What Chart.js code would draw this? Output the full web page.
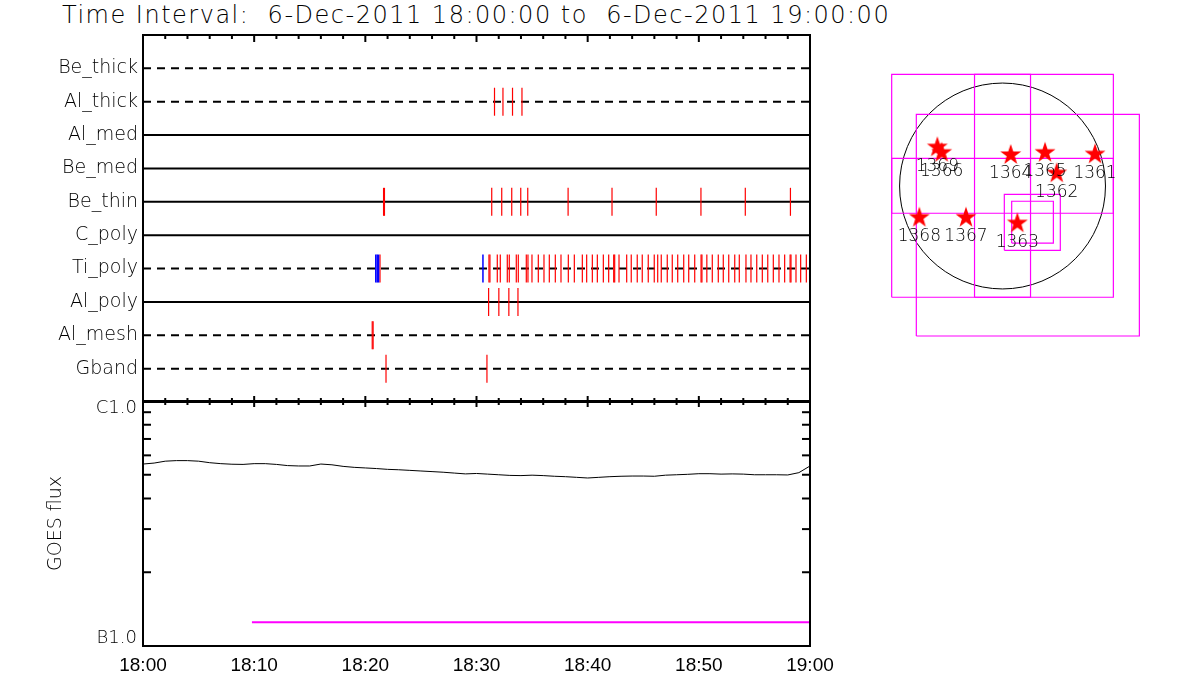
<!DOCTYPE html>
<html>
<head>
<meta charset="utf-8">
<script src="https://cdn.jsdelivr.net/npm/chart.js@4.4.1/dist/chart.umd.min.js"></script>
<style>
  html, body { margin: 0; padding: 0; background: #fff; }
  body { width: 1200px; height: 700px; position: relative; overflow: hidden; }
  #title { position: absolute; left: 62px; top: 1px; font: 200 24px "DejaVu Sans"; letter-spacing: 1.5px; white-space: pre; color: #000; }
  canvas { position: absolute; }
  #chart-top  { left: 0; top: 0; }
  #chart-goes { left: 0; top: 380px; }
  #chart-map  { left: 860px; top: 50px; }
</style>
</head>
<body>
<div id="title">Time Interval:  6-Dec-2011 18:00:00 to  6-Dec-2011 19:00:00</div>
<canvas id="chart-top" width="830" height="410"></canvas>
<canvas id="chart-goes" width="850" height="320"></canvas>
<canvas id="chart-map" width="320" height="310"></canvas>
<script>
/* ── données : temps en minutes après 18:00 ── */
const instruments = ['Be_thick', 'Al_thick', 'Al_med', 'Be_med', 'Be_thin', 'C_poly', 'Ti_poly', 'Al_poly', 'Al_mesh', 'Gband'];
const rowDashed   = [true, true, false, false, false, false, true, false, true, true];

const alThickEvents = [31.62, 32.38, 33.24, 34.09];
const beThinEvents  = [21.64, 21.72, 31.37, 32.27, 33.17, 33.98, 34.61, 38.24, 42.19, 46.17, 50.19, 54.18, 58.24];
const tiPolyEvents  = [21.32, 31.12, 31.21, 31.87, 32.14, 32.77, 32.95, 33.58, 33.76, 34.48, 34.63, 34.99, 35.56,
                       36.07, 36.55, 37.09, 37.60, 38.26, 38.80, 39.52, 39.91, 40.42, 40.87, 41.41, 41.89, 42.34,
                       42.43, 42.82, 43.51, 43.92, 44.46, 44.91, 45.45, 45.99, 46.30, 46.62, 47.16, 47.61, 48.10,
                       48.64, 49.09, 49.63, 50.20, 50.28, 50.72, 51.21, 51.75, 52.20, 52.69, 53.23, 53.64, 54.24,
                       54.69, 55.21, 55.71, 56.20, 56.70, 57.21, 57.72, 58.21, 58.29, 58.74, 59.16, 59.67];
const tiPolyBlue    = [20.94, 21.07, 21.19, 30.58];
const alPolyEvents  = [31.09, 32.01, 32.91, 33.73];
const alMeshEvents  = [20.62, 20.70];
const gbandEvents   = [21.86, 30.94];

const timeLabels = ['18:00', '18:10', '18:20', '18:30', '18:40', '18:50', '19:00'];

// flux GOES (x 1e-7 W/m2), un point par minute de 18:00 à 19:00
const goesFlux = [5.53, 5.58, 5.68, 5.71, 5.71, 5.68, 5.60, 5.55, 5.52, 5.51, 5.55, 5.55, 5.51, 5.45, 5.43, 5.43,
                  5.53, 5.49, 5.41, 5.36, 5.33, 5.30, 5.26, 5.24, 5.21, 5.18, 5.15, 5.12, 5.08, 5.04, 5.06, 5.03,
                  5.00, 4.97, 4.96, 4.98, 4.96, 4.93, 4.91, 4.88, 4.85, 4.88, 4.91, 4.93, 4.94, 4.94, 4.93, 4.98,
                  5.00, 5.02, 5.05, 5.05, 5.03, 5.04, 5.03, 5.00, 5.00, 5.00, 4.99, 5.10, 5.43];
const flareLevel = 1.25e-7;
const flareStart = 9.8;
const fluxMinorTicks = [2e-7, 3e-7, 4e-7, 5e-7, 6e-7, 7e-7, 8e-7, 9e-7];

// carte du disque solaire (arcsec)
const solarRadius = 978;
const regionIds = ['1369', '1366', '1364', '1365', '1362', '1361', '1368', '1367', '1363'];
const regionX   = [-619, -578, 78, 404, 515, 879, -790, -347, 141];
const regionY   = [368, 316, 295, 316, 121, 301, -301, -301, -354];
const fovBoxes  = [
  [-1053, -1057, 1053, 1061],
  [-266, -1057, 266, 1061],
  [-1053, -259, 1053, 263],
  [-819, -1425, 1300, 681],
  [17, -611, 549, -79],
  [87, -542, 483, -145],
];

Chart.defaults.font.family = '"DejaVu Sans"';
Chart.defaults.color = '#000';

// largeur/hauteur d'axe fixes, sans marge auto pour les labels extrêmes
const fixWidth  = w => s => { s.width = w; s.paddingTop = 0; s.paddingBottom = 0; };
const fixHeight = h => s => { s.height = h; s.paddingLeft = 0; s.paddingRight = 0; };

/* ── cadre + graduations vers l'intérieur ── */
const frameTicks = {
  id: 'frameTicks',
  afterDatasetsDraw(chart, args, opts) {
    const { ctx, chartArea: a, scales } = chart;
    const seg = (x1, y1, x2, y2) => { ctx.beginPath(); ctx.moveTo(x1, y1); ctx.lineTo(x2, y2); ctx.stroke(); };
    ctx.save();
    ctx.strokeStyle = '#000';
    ctx.lineWidth = 2;
    ctx.strokeRect(a.left, a.top, a.right - a.left, a.bottom - a.top);
    for (let t = 0; t <= 60; t += 2) {
      const x = scales.x.getPixelForValue(t);
      const major = t % 10 === 0;
      if (opts.top)    seg(x, a.top, x, a.top + (major ? opts.top[0] : opts.top[1]));
      if (opts.bottom) seg(x, a.bottom, x, a.bottom - (major ? opts.bottom[0] : opts.bottom[1]));
    }
    (opts.yTicks || []).forEach(v => {
      const y = scales.y.getPixelForValue(v);
      seg(a.left, y, a.left + opts.yLen, y);
      seg(a.right, y, a.right - opts.yLen, y);
    });
    ctx.restore();
  }
};

/* ── panneau du haut : lignes d'instruments ── */
function eventSet(times, row, color, width) {
  return {
    type: 'scatter', order: 1,
    data: times.map(t => ({ x: t, y: 10 - row })),
    pointStyle: 'line', rotation: 90, pointRadius: 14, pointHoverRadius: 14,
    borderColor: color, borderWidth: width, backgroundColor: color,
  };
}

const rowSets = instruments.map((name, i) => ({
  type: 'line', order: 2, label: name,
  data: [{ x: 0, y: 10 - i }, { x: 60, y: 10 - i }],
  borderColor: '#000', borderWidth: 2, borderDash: rowDashed[i] ? [8, 6] : [],
  pointRadius: 0,
}));

new Chart(document.getElementById('chart-top'), {
  type: 'scatter',
  data: {
    datasets: [
      eventSet(tiPolyBlue, 6, '#0000ff', 1.5),
      eventSet(alThickEvents, 1, '#ff0000', 1.2),
      eventSet(beThinEvents, 4, '#ff0000', 1.2),
      eventSet(tiPolyEvents, 6, '#ff0000', 1.2),
      eventSet(alPolyEvents, 7, '#ff0000', 1.2),
      eventSet(alMeshEvents, 8, '#ff0000', 1.2),
      eventSet(gbandEvents, 9, '#ff0000', 1.2),
      ...rowSets,
    ],
  },
  options: {
    responsive: false, animation: false, events: [],
    layout: { autoPadding: false, padding: { top: 35, right: 20, bottom: 8, left: 0 } },
    plugins: { legend: { display: false }, tooltip: { enabled: false },
               frameTicks: { top: [7, 4], bottom: [6, 4] } },
    scales: {
      x: { type: 'linear', min: 0, max: 60, display: false },
      y: {
        type: 'linear', min: 0, max: 11,
        afterFit: fixWidth(143),
        grid: { display: false, drawTicks: false }, border: { display: false },
        ticks: {
          stepSize: 1, autoSkip: false, padding: 5,
          font: { size: 19, weight: 200 },
          callback: v => (v >= 1 && v <= 10) ? instruments[10 - v] : '',
        },
      },
    },
  },
  plugins: [frameTicks],
});

/* ── panneau du bas : flux GOES ── */
new Chart(document.getElementById('chart-goes'), {
  type: 'line',
  data: {
    datasets: [
      {
        data: goesFlux.map((f, i) => ({ x: i, y: f * 1e-7 })),
        borderColor: '#000', borderWidth: 1, pointRadius: 0, tension: 0,
      },
      {
        data: [{ x: flareStart, y: flareLevel }, { x: 60, y: flareLevel }],
        borderColor: '#ff00ff', borderWidth: 2, pointRadius: 0,
      },
    ],
  },
  options: {
    responsive: false, animation: false, events: [],
    layout: { autoPadding: false, padding: { top: 21, right: 40, bottom: 0, left: 0 } },
    plugins: { legend: { display: false }, tooltip: { enabled: false },
               frameTicks: { top: [6, 4], yTicks: fluxMinorTicks, yLen: 8 } },
    scales: {
      x: {
        type: 'linear', min: 0, max: 60,
        afterFit: fixHeight(54),
        grid: { display: false, drawTicks: false }, border: { display: false },
        ticks: {
          stepSize: 10, autoSkip: false, maxRotation: 0, padding: 8,
          font: { family: '"Liberation Sans"', size: 19 },
          callback: v => timeLabels[v / 10],
        },
      },
      y: {
        type: 'logarithmic', min: 1e-7, max: 1e-6,
        afterFit: fixWidth(143),
        grid: { display: false, drawTicks: false }, border: { display: false },
        title: { display: true, text: 'GOES flux', font: { size: 19, weight: 200 }, padding: { top: 45, bottom: 0 } },
        ticks: {
          autoSkip: false, padding: 6,
          font: { size: 18, weight: 200, lineHeight: 0.8 },
          callback: v => {
            const e = Math.log10(v);
            if (Math.abs(e + 6) < 1e-6) return ['', 'C1.0'];
            if (Math.abs(e + 7) < 1e-6) return ['B1.0', ''];
            return '';
          },
        },
      },
    },
  },
  plugins: [frameTicks],
});

/* ── carte des régions actives ── */
const starImg = document.createElement('canvas');
starImg.width = 24; starImg.height = 24;
(() => {
  const c = starImg.getContext('2d');
  c.fillStyle = '#ff0000';
  c.beginPath();
  for (let k = 0; k < 10; k++) {
    const r = k % 2 ? 4.3 : 11;
    const a = -Math.PI / 2 + k * Math.PI / 5;
    c.lineTo(12 + r * Math.cos(a), 12 + r * Math.sin(a));
  }
  c.closePath();
  c.fill();
})();

const solarDisk = {
  id: 'solarDisk',
  beforeDatasetsDraw(chart) {
    const { ctx, scales: { x, y } } = chart;
    const cx = x.getPixelForValue(0), cy = y.getPixelForValue(0);
    const r = x.getPixelForValue(solarRadius) - cx;
    ctx.save();
    ctx.strokeStyle = '#000';
    ctx.lineWidth = 1;
    ctx.beginPath();
    ctx.arc(cx, cy, r, 0, Math.PI * 2);
    ctx.stroke();
    ctx.restore();
  },
  afterDatasetsDraw(chart) {
    const { ctx } = chart;
    const meta = chart.getDatasetMeta(chart.data.datasets.length - 1);
    ctx.save();
    ctx.fillStyle = '#000';
    ctx.font = '200 17px "DejaVu Sans"';
    ctx.textAlign = 'center';
    ctx.textBaseline = 'middle';
    meta.data.forEach((pt, i) => ctx.fillText(regionIds[i], pt.x, pt.y + 19));
    ctx.restore();
  }
};

new Chart(document.getElementById('chart-map'), {
  type: 'scatter',
  data: {
    datasets: [
      ...fovBoxes.map(([x0, y0, x1, y1]) => ({
        type: 'line', order: 2,
        data: [{ x: x0, y: y0 }, { x: x1, y: y0 }, { x: x1, y: y1 }, { x: x0, y: y1 }, { x: x0, y: y0 }],
        borderColor: '#ff00ff', borderWidth: 1.2, pointRadius: 0, tension: 0,
      })),
      {
        order: 1,
        data: regionX.map((x, i) => ({ x, y: regionY[i] })),
        pointStyle: starImg, pointRadius: 11,
      },
    ],
  },
  options: {
    responsive: false, animation: false, events: [],
    layout: { autoPadding: false, padding: 0 },
    plugins: { legend: { display: false }, tooltip: { enabled: false } },
    scales: {
      x: { type: 'linear', min: -1354, max: 1686, display: false },
      y: { type: 'linear', min: -1653, max: 1292, display: false },
    },
  },
  plugins: [solarDisk],
});
</script>
</body>
</html>
